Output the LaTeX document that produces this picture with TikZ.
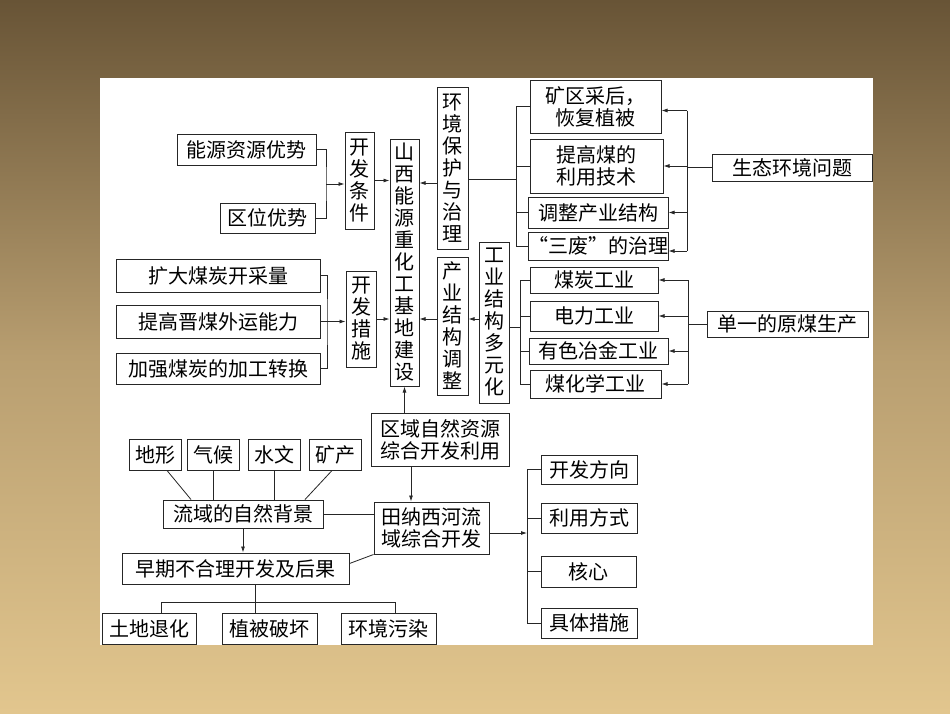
\documentclass[tikz,border=0pt]{standalone}
\usepackage{fontspec}
\newfontfamily\cjk{Noto Sans CJK SC}
\usetikzlibrary{arrows.meta}
\definecolor{bgtop}{RGB}{104,84,54}
\definecolor{bgmid}{RGB}{184,158,112}
\definecolor{bgbot}{RGB}{226,198,142}
\newcommand\bx[6]{\node[bx, minimum width={#4-#2}, minimum height={#5-#3}] (#1) at ({(#2+#4)/2},{(#3+#5)/2}) {#6};}
\begin{document}
\begin{tikzpicture}[x=1pt,y=-1pt,
  bx/.style={draw=black!85, line width=1pt, inner sep=0pt, align=center, text=black,
    font=\cjk\fontsize{20}{22}\selectfont},
  two/.style={font=\cjk\fontsize{20}{25}\selectfont},
  ln/.style={line width=0.8pt, draw=black!85},
  arr/.style={-{Latex[length=6pt,width=4pt]}}]
\useasboundingbox (0,0) rectangle (950,713);
\shade[top color=bgtop, bottom color=bgbot, middle color=bgmid] (0,0) rectangle (950,713);
\fill[white] (100,78) rectangle (873,645);

\bx{nyzy}{177}{134}{316}{165}{能源资源优势}
\bx{qwys}{220}{203}{315}{233}{区位优势}
\bx{kftj}{345}{132}{374}{229}{开\\发\\条\\件}
\bx{sx}{390}{139}{419}{386}{山\\西\\能\\源\\重\\化\\工\\基\\地\\建\\设}
\bx{kdmt}{116}{259}{320}{292}{扩大煤炭开采量}
\bx{tgjm}{116}{305}{320}{338}{提高晋煤外运能力}
\bx{jqmt}{116}{353}{320}{384}{加强煤炭的加工转换}
\bx{kfcs}{346}{271}{376}{367}{开\\发\\措\\施}
\bx{hjbh}{437}{87}{468}{249}{环\\境\\保\\护\\与\\治\\理}
\bx{cyjg}{437}{257}{468}{395}{产\\业\\结\\构\\调\\整}
\bx{gyjg}{479}{242}{509}{403}{工\\业\\结\\构\\多\\元\\化}
\bx{kq}{530}{80}{661}{133}{\fontsize{20}{25}\selectfont 矿区采后，\\恢复植被}
\bx{tgm}{530}{139}{663}{193}{\fontsize{20}{25}\selectfont 提高煤的\\利用技术}
\bx{tzcy}{528}{197}{668}{228}{调整产业结构}
\bx{sf}{528}{232}{668}{260}{“三废”的治理}
\bx{stwt}{712}{154}{872}{181}{生态环境问题}
\bx{mtgy}{530}{267}{658}{293}{煤炭工业}
\bx{dlgy}{530}{301}{658}{331}{电力工业}
\bx{ysyj}{529}{338}{668}{364}{有色冶金工业}
\bx{mhx}{530}{370}{661}{398}{煤化学工业}
\bx{dyym}{707}{311}{868}{337}{单一的原煤生产}
\bx{qyzr}{371}{413}{509}{466}{\fontsize{20}{25}\selectfont 区域自然资源\\综合开发利用}
\bx{tnx}{374}{502}{489}{554}{\fontsize{20}{25}\selectfont 田纳西河流\\域综合开发}
\bx{dx}{129}{439}{181}{470}{地形}
\bx{qh}{187}{439}{239}{470}{气候}
\bx{sw}{248}{439}{300}{470}{水文}
\bx{kc}{309}{439}{361}{470}{矿产}
\bx{lyzr}{163}{500}{323}{528}{流域的自然背景}
\bx{zq}{122}{553}{349}{584}{早期不合理开发及后果}
\bx{tdth}{102}{613}{196}{644}{土地退化}
\bx{zbph}{222}{613}{317}{644}{植被破坏}
\bx{hjwr}{341}{613}{436}{644}{环境污染}
\bx{kffx}{541}{455}{637}{484}{开发方向}
\bx{lyfs}{541}{503}{637}{533}{利用方式}
\bx{hx}{541}{556}{636}{587}{核心}
\bx{jtcs}{541}{608}{637}{638}{具体措施}

% development conditions
\coordinate (b1) at (326,184);
\draw[ln] (nyzy.east) -| (b1) |- (qwys.east);
\draw[ln,arr] (b1) -- (b1 -| kftj.west);
\draw[ln,arr] (kftj.east) -- (kftj.east -| sx.west);
% development measures
\coordinate (b2) at (327,322);
\draw[ln] (kdmt.east) -| (b2) |- (jqmt.east);
\draw[ln,arr] (tgjm.east) -- (tgjm.east -| kfcs.west);
\draw[ln,arr] (kfcs.east) -- (kfcs.east -| sx.west);
% into base from right
\coordinate (y183) at (0,183);
\coordinate (y319) at (0,319);
\draw[ln,arr] (hjbh.west |- y183) -- (sx.east |- y183);
\draw[ln,arr] (cyjg.west |- y319) -- (sx.east |- y319);
\draw[ln,arr] (gyjg.west |- y319) -- (cyjg.east |- y319);
% environment branches
\coordinate (v1) at (516,179);
\draw[ln] (hjbh.east |- v1) -- (v1);
\draw[ln] (kq.west) -| (v1 |- sf.west) -- (sf.west);
\draw[ln] (tgm.west) -- (tgm.west -| v1);
\draw[ln] (tzcy.west) -- (tzcy.west -| v1);
% ecological problems
\coordinate (v2) at (687,167);
\coordinate (kqa) at ([yshift=-4pt]kq.east);
\coordinate (sfa) at ([yshift=-5pt]sf.east);
\draw[ln] (stwt.west) -- (stwt.west -| v2);
\draw[ln] (kqa -| v2) -- (sfa -| v2);
\draw[ln,arr] (kqa -| v2) -- (kqa);
\draw[ln,arr] (v2 |- tgm.east) -- (tgm.east);
\draw[ln,arr] (v2 |- tzcy.east) -- (tzcy.east);
\draw[ln,arr] (sfa -| v2) -- (sfa);
% industry branches
\coordinate (v3) at (520,327);
\draw[ln] (gyjg.east |- v3) -- (v3);
\draw[ln] (mtgy.west) -| (v3 |- mhx.west) -- (mhx.west);
\draw[ln] (dlgy.west) -- (dlgy.west -| v3);
\draw[ln] (ysyj.west) -- (ysyj.west -| v3);
% single coal production
\coordinate (v4) at (688,327);
\draw[ln] (dyym.west) -- (dyym.west -| v4);
\draw[ln] (v4 |- mtgy.east) -- (v4 |- mhx.east);
\draw[ln,arr] (v4 |- mtgy.east) -- (mtgy.east);
\draw[ln,arr] (v4 |- dlgy.east) -- (dlgy.east);
\draw[ln,arr] (v4 |- ysyj.east) -- (ysyj.east);
\draw[ln,arr] (v4 |- mhx.east) -- (mhx.east);
% bottom part
\draw[ln,arr] (sx.south |- qyzr.north) -- (sx.south);
\coordinate (xq) at (411,0);
\draw[ln,arr] (qyzr.south -| xq) -- (tnx.north -| xq);
\draw[ln] ([xshift=12pt]dx.south) -- ([xshift=-52pt]lyzr.north);
\draw[ln] (qh.south) -- (qh.south |- lyzr.north);
\draw[ln] (sw.south) -- (sw.south |- lyzr.north);
\draw[ln] ([xshift=-3pt]kc.south) -- ([xshift=62pt]lyzr.north);
\draw[ln] (lyzr.east) -- (lyzr.east -| tnx.west);
\draw[ln,arr] (lyzr.south) -- (lyzr.south |- zq.north);
\draw[ln] ([yshift=5pt]zq.east) -- (tnx.south west);
\coordinate (h1) at (255,602);
\coordinate (hl) at (161,602);
\coordinate (hr) at (395,602);
\draw[ln] (zq.south -| h1) -- (zbph.north -| h1);
\draw[ln] (tdth.north -| hl) -- (hl) -- (hr) -- (hjwr.north -| hr);
% development aspects
\coordinate (v5) at (527,533);
\draw[ln,arr] (tnx.east |- v5) -- (v5);
\draw[ln] (kffx.west) -| (v5 |- jtcs.west) -- (jtcs.west);
\draw[ln] (lyfs.west) -- (lyfs.west -| v5);
\draw[ln] (hx.west) -- (hx.west -| v5);
\end{tikzpicture}
\end{document}
